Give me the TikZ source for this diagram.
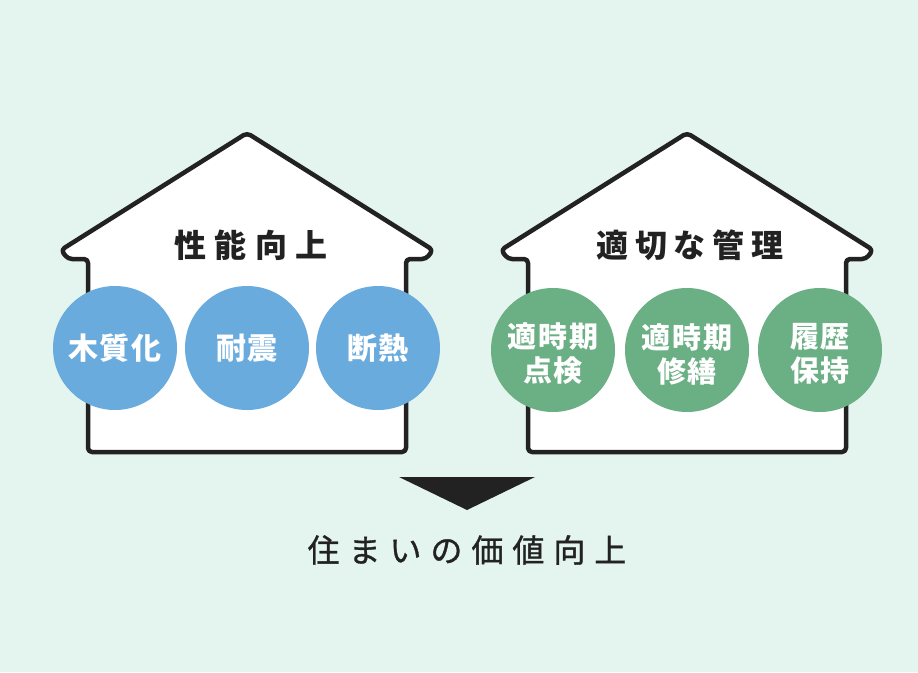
\documentclass[tikz,border=0pt]{standalone}
\usepackage{fontspec}
\newfontfamily\jptitle[LetterSpace=27]{Noto Sans CJK JP}
\newfontfamily\jptitlenarrow[LetterSpace=21]{Noto Sans CJK JP}
\newfontfamily\jpball[LetterSpace=6]{Noto Sans CJK JP}
\newfontfamily\jpbottom[LetterSpace=28, FakeBold=1]{Noto Sans CJK JP}

\definecolor{bgmint}{HTML}{E4F4EE}
\definecolor{ballblue}{HTML}{6AABDE}
\definecolor{ballgreen}{HTML}{6BAF84}
\definecolor{inkdark}{HTML}{222222}

\tikzset{
	house/.style={draw=inkdark, line width=4.5, fill=white, rounded corners=4, line join=round},
	ball/.style={circle, minimum size=124, inner sep=0, text=white, align=center,
		font=\jpball\bfseries\fontsize{30}{34}\selectfont},
	balltext/.style={text=white, align=center, inner sep=0,
		font=\jpball\bfseries\fontsize{29}{34}\selectfont},
	housetitle/.style={text=inkdark, font=\jptitle\bfseries\fontsize{32}{36}\selectfont}
}

\begin{document}
\begin{tikzpicture}[x=1pt, y=-1pt]

	\useasboundingbox (0,0) rectangle (918,672);
	\fill[bgmint] (0,0) rectangle (918,672);

	% left house
	\draw[house] (247,133) -- (61,250) -- (68,259) -- (88,259) -- (88,452)
		-- (406,452) -- (406,259) -- (426,259) -- (433,250) -- cycle;
	\node[housetitle] (perf) at (251,245) {性能向上};
	\node[ball, fill=ballblue] (wood) at (115,348) {木質化};
	\node[ball, fill=ballblue] (quake) at (247,348) {耐震};
	\node[ball, fill=ballblue] (heat) at (378,348) {断熱};

	% right house
	\draw[house] (687,133) -- (501,250) -- (508,259) -- (528,259) -- (528,452)
		-- (846,452) -- (846,259) -- (866,259) -- (873,250) -- cycle;
	\node[housetitle, font=\jptitlenarrow\bfseries\fontsize{32}{36}\selectfont] (care) at (690,245) {適切な管理};
	\node[ball, fill=ballgreen, label={[balltext, yshift=-4pt]center:{適時期\\点検}}] (check) at (553,350) {};
	\node[ball, fill=ballgreen, label={[balltext, yshift=-4pt]center:{適時期\\修繕}}] (repair) at (687,350) {};
	\node[ball, fill=ballgreen, label={[balltext, yshift=-4pt]center:{履歴\\保持}}] (record) at (820,350) {};

	% arrow and result
	\fill[inkdark] (399,477) -- (535,477) -- (467,510) -- cycle;
	\node[text=inkdark, font=\jpbottom\fontsize{32}{36}\selectfont] (value) at (467,550) {住まいの価値向上};

\end{tikzpicture}
\end{document}
